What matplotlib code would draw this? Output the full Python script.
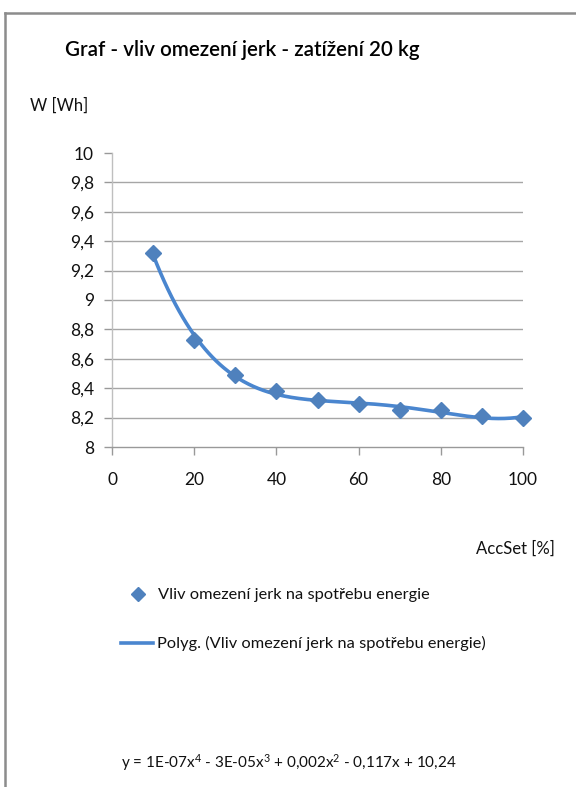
import numpy as np
import matplotlib
matplotlib.use("Agg")
import matplotlib.pyplot as plt
from matplotlib.lines import Line2D

plt.rcParams['font.family'] = ['Lato', 'DejaVu Sans']
plt.rcParams['mathtext.fontset'] = 'custom'
plt.rcParams['mathtext.rm'] = 'Lato'
plt.rcParams['mathtext.it'] = 'Lato'

acc_set = [10, 20, 30, 40, 50, 60, 70, 80, 90, 100]
energy_wh = [9.32, 8.73, 8.49, 8.38, 8.32, 8.29, 8.25, 8.25, 8.21, 8.20]
x_ticks = [0, 20, 40, 60, 80, 100]
y_ticks = [8.0, 8.2, 8.4, 8.6, 8.8, 9.0, 9.2, 9.4, 9.6, 9.8, 10.0]
y_tick_labels = ["8", "8,2", "8,4", "8,6", "8,8", "9", "9,2", "9,4", "9,6", "9,8", "10"]

title = "Graf - vliv omezení jerk - zatížení 20 kg"
series_label = "Vliv omezení jerk na spotřebu energie"
trend_label = "Polyg. (Vliv omezení jerk na spotřebu energie)"
equation = "y = 1E-07x$^4$ - 3E-05x$^3$ + 0,002x$^2$ - 0,117x + 10,24"

W, H = 576, 787
fig = plt.figure(figsize=(W / 100, H / 100), dpi=100)

def fx(px):
    return px / W

def fy(py):
    return 1 - py / H

# frame lines (top & left)
fig.add_artist(Line2D([fx(5), 1.0], [fy(13), fy(13)], color="#8c8c8c", lw=1.8))
fig.add_artist(Line2D([fx(5), fx(5)], [fy(13), 0.0], color="#8c8c8c", lw=1.8))

ax = fig.add_axes([fx(112), fy(447), fx(523) - fx(112), fy(153) - fy(447)])

blue = "#4F81BD"
line_blue = "#4A86CF"

# polynomial trendline (degree 4) fitted to data
coef = np.polyfit(acc_set, energy_wh, 4)
xs = np.linspace(min(acc_set), max(acc_set), 300)
ax.plot(xs, np.polyval(coef, xs), color=line_blue, lw=2.6, zorder=3, solid_capstyle="round")
ax.plot(acc_set, energy_wh, linestyle="none", marker="D", markersize=8.5,
        color=blue, markeredgecolor=blue, zorder=4, clip_on=False)

ax.set_xlim(0, 100)
ax.set_ylim(8, 10)
ax.set_xticks(x_ticks)
ax.set_xticklabels([str(v) for v in x_ticks])
ax.set_yticks(y_ticks)
ax.set_yticklabels(y_tick_labels)

for v in y_ticks[1:-1]:
    ax.axhline(v, color="#a6a6a6", lw=1.0, zorder=1)

for s in ["top", "right"]:
    ax.spines[s].set_visible(False)
ax.spines["left"].set_color("#bfbfbf")
ax.spines["bottom"].set_color("#999999")
ax.spines["left"].set_linewidth(1.0)
ax.spines["bottom"].set_linewidth(1.0)
ax.tick_params(axis="both", direction="out", length=6, width=1.0, color="#999999",
               labelsize=12.5, labelcolor="#111111")
ax.tick_params(axis="x", pad=12)
ax.tick_params(axis="y", pad=7)
ax.set_facecolor("none")

fig.text(fx(242), fy(50), title, ha="center", va="center", fontsize=14.8,
         fontweight="semibold", color="#000000")
fig.text(fx(30), fy(106), "W [Wh]", ha="left", va="center", fontsize=12, color="#111111")
fig.text(fx(555), fy(549), "AccSet [%]", ha="right", va="center", fontsize=12, color="#111111")

# legend
fig.add_artist(Line2D([fx(138)], [fy(594)], marker="D", markersize=7, color=blue, linestyle="none"))
fig.text(fx(158), fy(595), series_label, ha="left", va="center", fontsize=11.8, color="#111111")
fig.add_artist(Line2D([fx(121), fx(153)], [fy(643), fy(643)], color=line_blue, lw=2.6))
fig.text(fx(157), fy(643), trend_label, ha="left", va="center", fontsize=11.8, color="#111111")

fig.text(fx(289), fy(763), equation, ha="center", va="center", fontsize=11, color="#111111")

fig.savefig("out.png", dpi=100, facecolor="white")
